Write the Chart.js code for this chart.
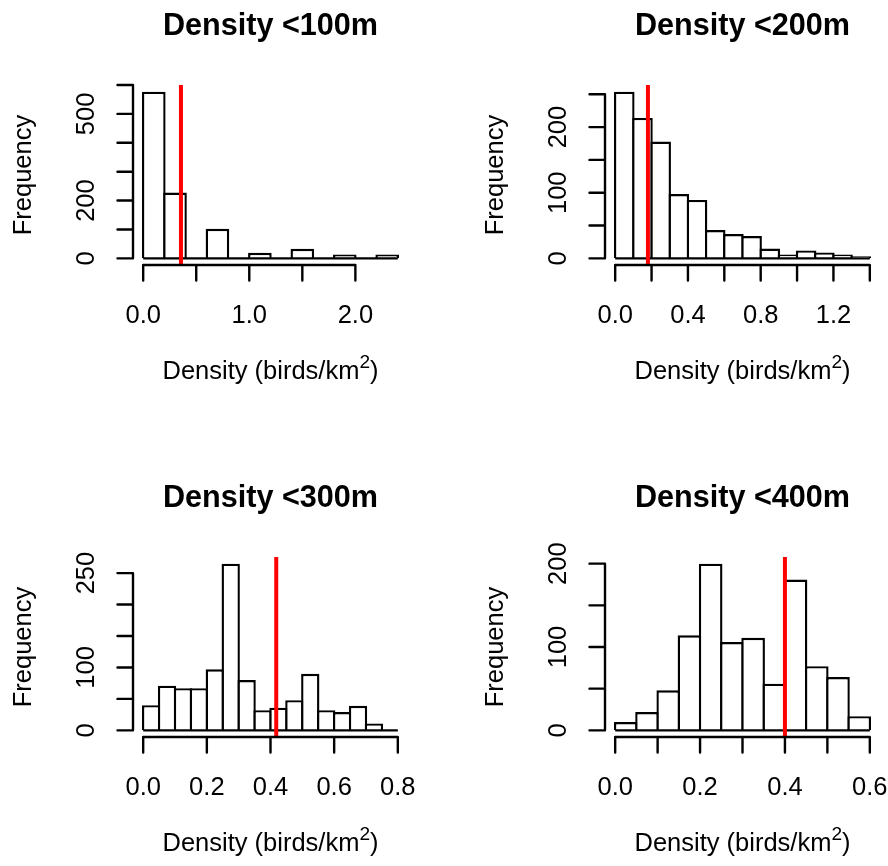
<!DOCTYPE html>
<html>
<head>
<meta charset="utf-8">
<title>Density histograms</title>
<script src="https://cdn.jsdelivr.net/npm/chart.js@4.4.1/dist/chart.umd.min.js"></script>
<style>
  html, body { margin: 0; padding: 0; background: #fff; }
  body { width: 888px; height: 866px; overflow: hidden; position: relative; }
  canvas { position: absolute; }
</style>
</head>
<body>
<canvas id="h100" width="472" height="472" style="left:0;top:0"></canvas>
<canvas id="h200" width="472" height="472" style="left:472px;top:0"></canvas>
<canvas id="h300" width="472" height="472" style="left:0;top:472px"></canvas>
<canvas id="h400" width="472" height="472" style="left:472px;top:472px"></canvas>
<script>
// Datos (limites de clase y frecuencias)
const breaks100 = [0, 0.2, 0.4, 0.6, 0.8, 1.0, 1.2, 1.4, 1.6, 1.8, 2.0, 2.2, 2.4];
const counts100 = [577, 228, 0, 102, 0, 19, 0, 33, 0, 13, 0, 13];
const mean100 = 0.356;
const xTicks100 = [0, 0.5, 1.0, 1.5, 2.0];
const xTickLabels100 = ["0.0", "", "1.0", "", "2.0"];
const yTicks100 = [0, 100, 200, 300, 400, 500, 600];
const yTickLabels100 = ["0", "", "200", "", "", "500", ""];

const breaks200 = [0, 0.1, 0.2, 0.3, 0.4, 0.5, 0.6, 0.7, 0.8, 0.9, 1.0, 1.1, 1.2, 1.3, 1.4];
const counts200 = [254, 214, 178, 98, 89, 43, 37, 34, 15, 6, 12, 9, 6, 3];
const mean200 = 0.18;
const xTicks200 = [0, 0.2, 0.4, 0.6, 0.8, 1.0, 1.2, 1.4];
const xTickLabels200 = ["0.0", "", "0.4", "", "0.8", "", "1.2", ""];
const yTicks200 = [0, 50, 100, 150, 200, 250];
const yTickLabels200 = ["0", "", "100", "", "200", ""];

const breaks300 = [0, 0.05, 0.1, 0.15, 0.2, 0.25, 0.3, 0.35, 0.4, 0.45, 0.5, 0.55, 0.6, 0.65, 0.7, 0.75, 0.8];
const counts300 = [40, 71, 67, 67, 97, 265, 80, 32, 36, 48, 90, 32, 29, 39, 11, 0];
const mean300 = 0.418;
const xTicks300 = [0, 0.2, 0.4, 0.6, 0.8];
const xTickLabels300 = ["0.0", "0.2", "0.4", "0.6", "0.8"];
const yTicks300 = [0, 50, 100, 150, 200, 250];
const yTickLabels300 = ["0", "", "100", "", "", "250"];

const breaks400 = [0, 0.05, 0.1, 0.15, 0.2, 0.25, 0.3, 0.35, 0.4, 0.45, 0.5, 0.55, 0.6];
const counts400 = [10, 22, 48, 114, 200, 106, 111, 56, 181, 77, 64, 17];
const mean400 = 0.4;
const xTicks400 = [0, 0.1, 0.2, 0.3, 0.4, 0.5, 0.6];
const xTickLabels400 = ["0.0", "", "0.2", "", "0.4", "", "0.6"];
const yTicks400 = [0, 50, 100, 150, 200];
const yTickLabels400 = ["0", "", "100", "", "200"];

const FONT = '"Liberation Sans", Arial, sans-serif';
const BASE = 25.5;
const TICK = 15.5;
const LW = 2.4;
const PAD = {left: 133, right: 64, top: 85, bottom: 207};

// Ejes al estilo de R base graphics
const rStyle = {
  id: 'rStyle',
  afterDraw(chart, args, opts) {
    const {ctx, chartArea: area} = chart;
    const x = chart.scales.x, y = chart.scales.y;
    ctx.save();
    ctx.strokeStyle = '#000';
    ctx.fillStyle = '#000';
    ctx.lineWidth = LW;
    ctx.lineCap = 'round';

    // eje x
    const ax = area.bottom;
    ctx.beginPath();
    ctx.moveTo(x.getPixelForValue(opts.xTicks[0]), ax);
    ctx.lineTo(x.getPixelForValue(opts.xTicks[opts.xTicks.length - 1]), ax);
    opts.xTicks.forEach(v => {
      const px = x.getPixelForValue(v);
      ctx.moveTo(px, ax);
      ctx.lineTo(px, ax + TICK);
    });
    // eje y
    const ay = area.left;
    ctx.moveTo(ay, y.getPixelForValue(opts.yTicks[0]));
    ctx.lineTo(ay, y.getPixelForValue(opts.yTicks[opts.yTicks.length - 1]));
    opts.yTicks.forEach(v => {
      const py = y.getPixelForValue(v);
      ctx.moveTo(ay, py);
      ctx.lineTo(ay - TICK, py);
    });
    ctx.stroke();

    ctx.font = BASE + 'px ' + FONT;
    ctx.textAlign = 'center';
    ctx.textBaseline = 'alphabetic';
    opts.xTicks.forEach((v, i) => {
      if (opts.xTickLabels[i]) ctx.fillText(opts.xTickLabels[i], x.getPixelForValue(v), ax + 58);
    });
    opts.yTicks.forEach((v, i) => {
      if (!opts.yTickLabels[i]) return;
      ctx.save();
      ctx.translate(ay - 39, y.getPixelForValue(v));
      ctx.rotate(-Math.PI / 2);
      ctx.fillText(opts.yTickLabels[i], 0, 0);
      ctx.restore();
    });

    const cx = (area.left + area.right) / 2;
    const cy = (area.top + area.bottom) / 2;

    // titulo
    ctx.font = 'bold ' + (BASE * 1.2) + 'px ' + FONT;
    ctx.fillText(opts.title, cx, area.top - 50);

    // etiqueta del eje x con superindice
    const supSize = BASE * 0.75;
    ctx.font = BASE + 'px ' + FONT;
    const partA = 'Density (birds/km', partC = ')';
    const wA = ctx.measureText(partA).width;
    const wC = ctx.measureText(partC).width;
    ctx.font = supSize + 'px ' + FONT;
    const wB = ctx.measureText('2').width;
    let start = cx - (wA + wB + wC) / 2;
    const base = area.bottom + 114;
    ctx.textAlign = 'left';
    ctx.font = BASE + 'px ' + FONT;
    ctx.fillText(partA, start, base);
    ctx.font = supSize + 'px ' + FONT;
    ctx.fillText('2', start + wA, base - 11);
    ctx.font = BASE + 'px ' + FONT;
    ctx.fillText(partC, start + wA + wB, base);

    // etiqueta del eje y
    ctx.textAlign = 'center';
    ctx.save();
    ctx.translate(area.left - 102, cy);
    ctx.rotate(-Math.PI / 2);
    ctx.fillText('Frequency', 0, 0);
    ctx.restore();

    ctx.restore();
  }
};

function histogram(id, h) {
  const xMin = h.breaks[0], xMax = h.breaks[h.breaks.length - 1];
  const xPad = (xMax - xMin) * 0.04;
  const yTop = Math.max(...h.counts);
  const yPad = yTop * 0.04;

  // barras un poco solapadas para que el borde quede centrado en el limite
  const areaW = 472 - PAD.left - PAD.right;
  const binPx = (h.breaks[1] - h.breaks[0]) / (xMax - xMin + 2 * xPad) * areaW;
  const barPct = (binPx + LW) / binPx;

  const bars = h.counts.map((c, i) => ({x: (h.breaks[i] + h.breaks[i + 1]) / 2, y: c}));

  return new Chart(document.getElementById(id), {
    type: 'bar',
    data: {
      datasets: [
        {
          type: 'line',
          data: [{x: h.mean, y: -yPad}, {x: h.mean, y: yTop + yPad}],
          borderColor: '#FF0000',
          borderWidth: 4,
          pointRadius: 0,
          order: 0
        },
        {
          type: 'line',
          data: [{x: xMin, y: 0}, {x: xMax, y: 0}],
          borderColor: '#000',
          borderWidth: LW,
          pointRadius: 0,
          order: 1
        },
        {
          data: bars,
          backgroundColor: '#fff',
          borderColor: '#000',
          borderWidth: LW,
          borderSkipped: 'start',
          categoryPercentage: 1,
          barPercentage: barPct,
          order: 2
        }
      ]
    },
    options: {
      responsive: false,
      animation: false,
      devicePixelRatio: 1,
      layout: {padding: PAD},
      scales: {
        x: {
          type: 'linear',
          display: false,
          offset: false,
          min: xMin - xPad,
          max: xMax + xPad,
          afterBuildTicks: s => { s.ticks = h.xTicks.map(v => ({value: v})); }
        },
        y: {
          type: 'linear',
          display: false,
          min: -yPad,
          max: yTop + yPad
        }
      },
      plugins: {
        legend: {display: false},
        tooltip: {enabled: false},
        rStyle: {
          title: h.title,
          xTicks: h.xTicks, xTickLabels: h.xTickLabels,
          yTicks: h.yTicks, yTickLabels: h.yTickLabels
        }
      }
    },
    plugins: [rStyle]
  });
}

histogram('h100', {title: 'Density <100m', breaks: breaks100, counts: counts100, mean: mean100,
  xTicks: xTicks100, xTickLabels: xTickLabels100, yTicks: yTicks100, yTickLabels: yTickLabels100});
histogram('h200', {title: 'Density <200m', breaks: breaks200, counts: counts200, mean: mean200,
  xTicks: xTicks200, xTickLabels: xTickLabels200, yTicks: yTicks200, yTickLabels: yTickLabels200});
histogram('h300', {title: 'Density <300m', breaks: breaks300, counts: counts300, mean: mean300,
  xTicks: xTicks300, xTickLabels: xTickLabels300, yTicks: yTicks300, yTickLabels: yTickLabels300});
histogram('h400', {title: 'Density <400m', breaks: breaks400, counts: counts400, mean: mean400,
  xTicks: xTicks400, xTickLabels: xTickLabels400, yTicks: yTicks400, yTickLabels: yTickLabels400});
</script>
</body>
</html>
